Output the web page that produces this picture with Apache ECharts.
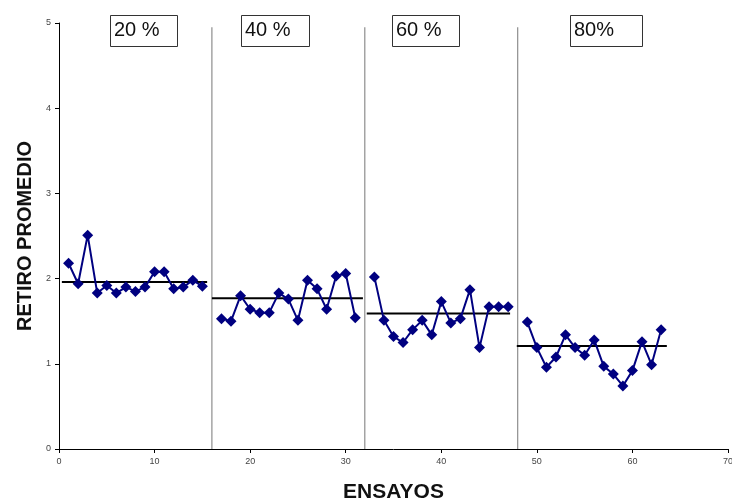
<!DOCTYPE html>
<html>
<head>
<meta charset="utf-8">
<script src="https://cdn.jsdelivr.net/npm/echarts@6/dist/echarts.min.js"></script>
<style>html,body{margin:0;padding:0;background:#fff}#c{width:732px;height:501px}</style>
</head>
<body>
<div id="c"></div>
<script>
// Data
const trials20 = [1,2,3,4,5,6,7,8,9,10,11,12,13,14,15];
const values20 = [2.18,1.94,2.51,1.83,1.92,1.83,1.90,1.85,1.90,2.08,2.08,1.88,1.90,1.98,1.91];
const trials40 = [17,18,19,20,21,22,23,24,25,26,27,28,29,30,31];
const values40 = [1.53,1.50,1.80,1.64,1.60,1.60,1.83,1.76,1.51,1.98,1.88,1.64,2.03,2.06,1.54];
const trials60 = [33,34,35,36,37,38,39,40,41,42,43,44,45,46,47];
const values60 = [2.02,1.51,1.32,1.25,1.40,1.51,1.34,1.73,1.48,1.53,1.87,1.19,1.67,1.67,1.67];
const trials80 = [49,50,51,52,53,54,55,56,57,58,59,60,61,62,63];
const values80 = [1.49,1.19,0.96,1.08,1.34,1.19,1.10,1.28,0.97,0.88,0.74,0.92,1.26,0.99,1.40];
const meanStart = [0.3, 16.0, 32.2, 47.9];
const meanEnd = [15.5, 31.8, 47.2, 63.6];
const meanValues = [1.96, 1.77, 1.59, 1.21];
const separators = [16, 32, 48];
const separatorTop = 4.95;
const groupLabels = ['20 %', '40 %', '60 %', '80%'];
const xTicks = [0,10,20,30,40,50,60,70];
const yTicks = [0,1,2,3,4,5];

const groups = [[trials20,values20],[trials40,values40],[trials60,values60],[trials80,values80]];
const series = [];
groups.forEach(g => {
  series.push({
    type: 'line',
    data: g[0].map((x,i)=>[x,g[1][i]]),
    symbol: 'diamond', symbolSize: 11,
    itemStyle: {color: '#000080'},
    lineStyle: {color: '#000080', width: 2},
    z: 3
  });
});
meanValues.forEach((m,i) => {
  series.push({
    type: 'line', data: [[meanStart[i], m],[meanEnd[i], m]],
    symbol: 'none', lineStyle: {color: '#000', width: 2}, z: 2
  });
});
separators.forEach(s => {
  series.push({
    type: 'line', data: [[s,0],[s,separatorTop]],
    symbol: 'none', lineStyle: {color: '#777', width: 1}, z: 1
  });
});

const boxPos = [[110,15,67],[241,15,68],[392,15,67],[570,15,72]];
const graphic = [];
groupLabels.forEach((t,i)=>{
  const b = boxPos[i];
  graphic.push({type:'rect', left:b[0], top:b[1], shape:{width:b[2], height:31}, style:{fill:'#fff', stroke:'#333', lineWidth:1}});
  graphic.push({type:'text', left:b[0]+4, top:b[1]+5, style:{text:t, font:'20px "Liberation Sans", Arial, sans-serif', fill:'#111'}});
});

const chart = echarts.init(document.getElementById('c'));
chart.setOption({
  animation: false,
  grid: {left: 59, right: 4, top: 23, bottom: 52, containLabel: false, outerBoundsMode: 'none'},
  xAxis: {
    type: 'value', min: xTicks[0], max: xTicks[xTicks.length-1], interval: 10,
    name: 'ENSAYOS', nameLocation: 'middle', nameGap: 33,
    nameTextStyle: {fontSize: 21, fontWeight: 'bold', color: '#111', fontFamily: '"Liberation Sans", Arial, sans-serif'},
    axisLine: {lineStyle: {color: '#000', width: 1}},
    axisTick: {length: 4, lineStyle: {color: '#000'}},
    axisLabel: {fontSize: 9, color: '#444', margin: 8},
    splitLine: {show: false}
  },
  yAxis: {
    type: 'value', min: yTicks[0], max: yTicks[yTicks.length-1], interval: 1,
    name: 'RETIRO PROMEDIO', nameLocation: 'middle', nameGap: 24,
    nameTextStyle: {fontSize: 20, fontWeight: 'bold', color: '#111', fontFamily: '"Liberation Sans", Arial, sans-serif'},
    axisLine: {show: true, lineStyle: {color: '#000', width: 1}},
    axisTick: {show: true, length: 4, lineStyle: {color: '#000'}},
    axisLabel: {fontSize: 9, color: '#444', margin: 8},
    splitLine: {show: false}
  },
  graphic: graphic,
  series: series
});
</script>
</body>
</html>
